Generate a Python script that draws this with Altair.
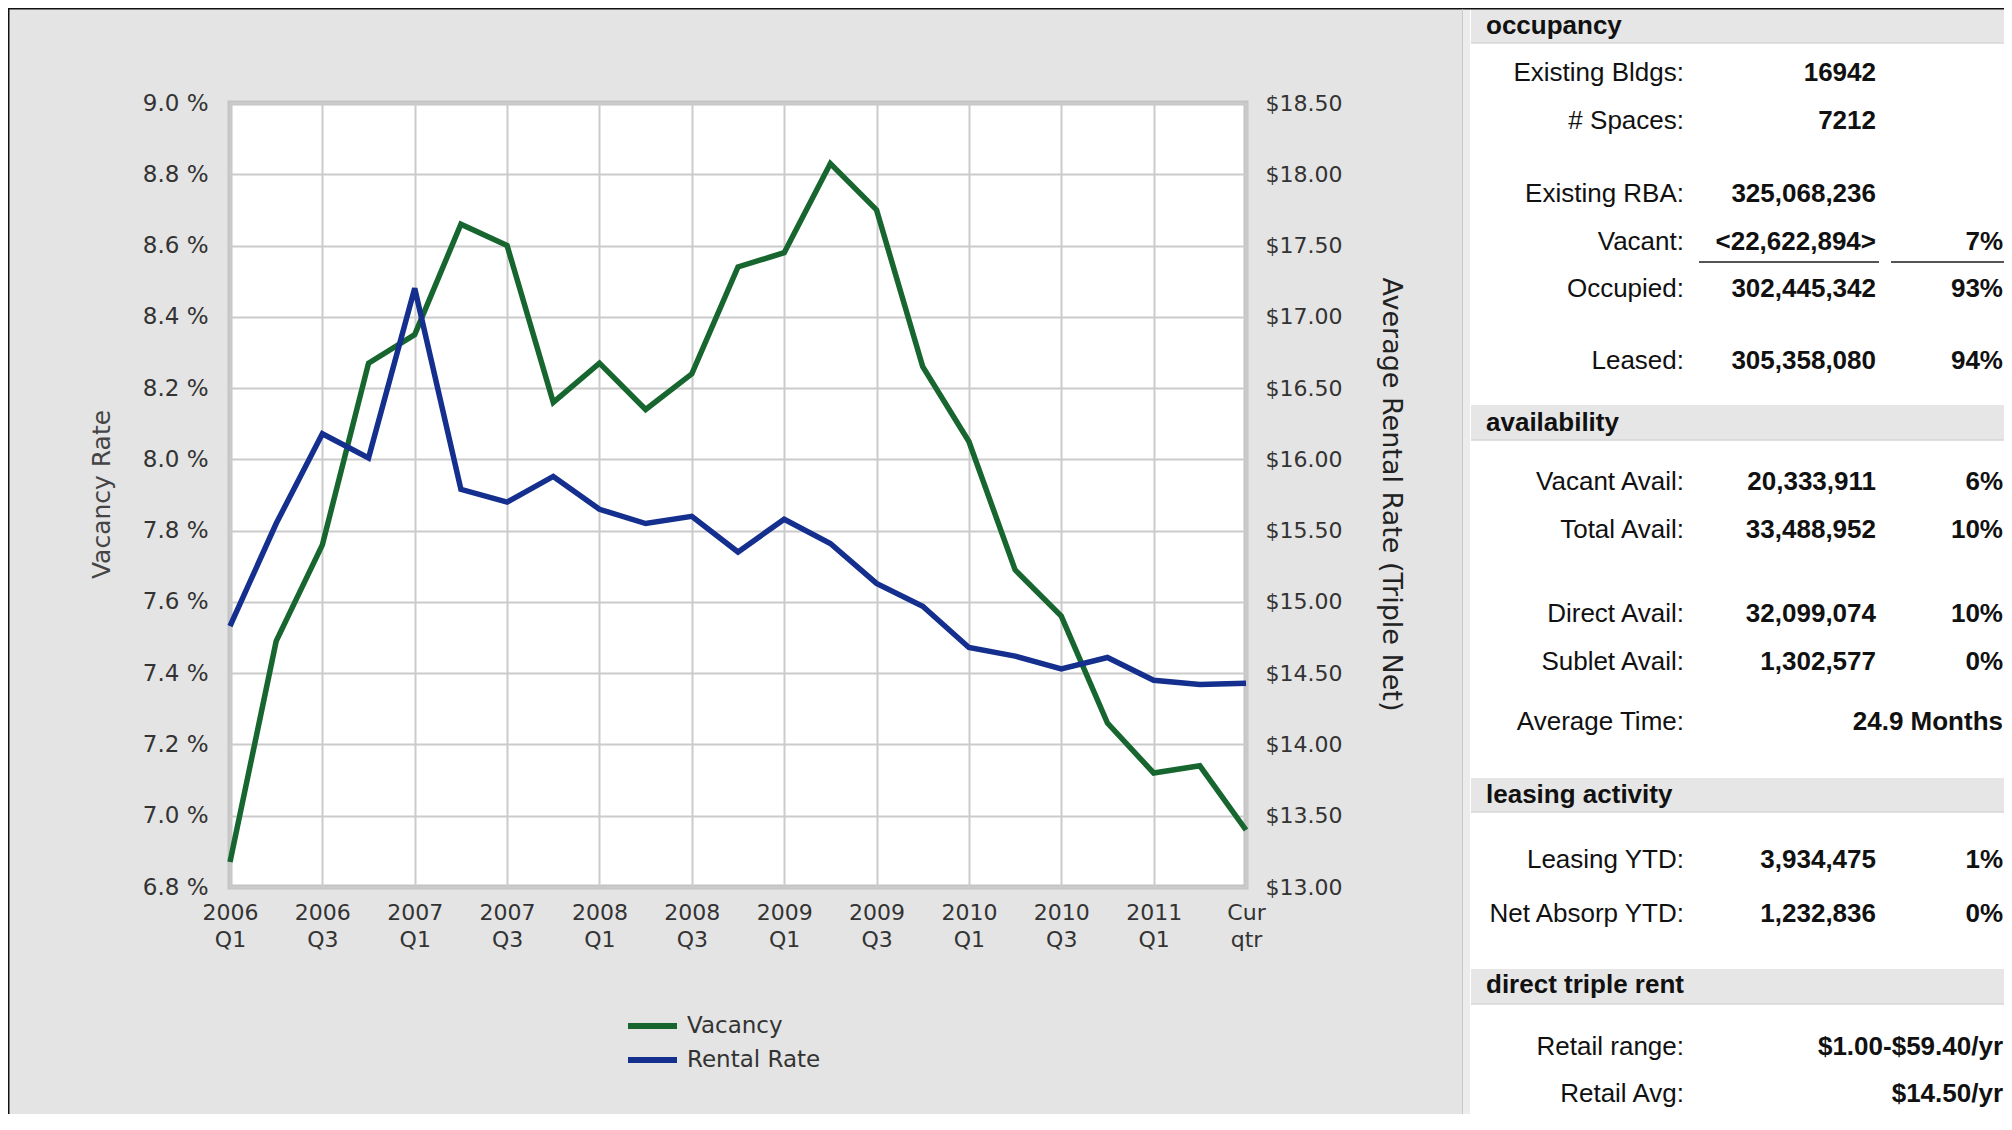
import altair as alt
import pandas as pd

# ---------------- data ----------------
quarters = ['2006 Q1', '2006 Q2', '2006 Q3', '2006 Q4',
            '2007 Q1', '2007 Q2', '2007 Q3', '2007 Q4',
            '2008 Q1', '2008 Q2', '2008 Q3', '2008 Q4',
            '2009 Q1', '2009 Q2', '2009 Q3', '2009 Q4',
            '2010 Q1', '2010 Q2', '2010 Q3', '2010 Q4',
            '2011 Q1', '2011 Q2', 'Cur qtr']
vacancy = [6.87, 7.49, 7.76, 8.27, 8.35, 8.66, 8.60, 8.16, 8.27, 8.14, 8.24, 8.54,
           8.58, 8.83, 8.70, 8.26, 8.05, 7.69, 7.56, 7.26, 7.12, 7.14, 6.96]
rental = [14.83, 15.55, 16.18, 16.01, 17.20, 15.79, 15.70, 15.88, 15.65, 15.55, 15.60, 15.35,
          15.58, 15.41, 15.13, 14.97, 14.68, 14.62, 14.53, 14.61, 14.45, 14.42, 14.43]
x_ticks = ['2006 Q1', '2006 Q3', '2007 Q1', '2007 Q3', '2008 Q1', '2008 Q3',
           '2009 Q1', '2009 Q3', '2010 Q1', '2010 Q3', '2011 Q1', 'Cur qtr']
vac_ticks = [6.8, 7.0, 7.2, 7.4, 7.6, 7.8, 8.0, 8.2, 8.4, 8.6, 8.8, 9.0]
rent_ticks = [13.0, 13.5, 14.0, 14.5, 15.0, 15.5, 16.0, 16.5, 17.0, 17.5, 18.0, 18.5]
series_names = ['Vacancy', 'Rental Rate']
series_colors = ['#17662f', '#142f8e']

section_titles = ['occupancy', 'availability', 'leasing activity', 'direct triple rent']
occ_labels = ['Existing Bldgs:', '# Spaces:', 'Existing RBA:', 'Vacant:', 'Occupied:', 'Leased:']
occ_values = ['16942', '7212', '325,068,236', '<22,622,894>', '302,445,342', '305,358,080']
occ_pcts = ['', '', '', '7%', '93%', '94%']
avail_labels = ['Vacant Avail:', 'Total Avail:', 'Direct Avail:', 'Sublet Avail:', 'Average Time:']
avail_values = ['20,333,911', '33,488,952', '32,099,074', '1,302,577', '']
avail_pcts = ['6%', '10%', '10%', '0%', '24.9 Months']
lease_labels = ['Leasing YTD:', 'Net Absorp YTD:']
lease_values = ['3,934,475', '1,232,836']
lease_pcts = ['1%', '0%']
rent_labels = ['Retail range:', 'Retail Avg:']
rent_values = ['', '']
rent_pcts = ['$1.00-$59.40/yr', '$14.50/yr']

# ---------------- layout (pixels relative to plot origin) ----------------
W, H = 1016, 784
PAGE_BOTTOM = 1114
PAGE_RIGHT = 2004
OX, OY = 230, 103  # page position of plot origin
PAD = {'left': OX - 8, 'top': OY - 8,
       'right': PAGE_RIGHT - OX - W, 'bottom': PAGE_BOTTOM - OY - H}

def rx(px):
    return px - OX

def ry(py):
    return py - OY

row_baselines = [[81, 129, 202, 250, 297, 368.5],
                 [490, 538, 622, 670, 730],
                 [868, 922],
                 [1055, 1102]]
band_spans = [(9, 43), (405, 440), (778, 812), (969, 1004)]
header_baselines = [33.5, 431, 802.5, 993]
COL_LABEL, COL_VALUE, COL_PCT, COL_HEAD = rx(1684), rx(1876), rx(2003), rx(1486)
PANEL_L, PANEL_R = rx(1471), rx(PAGE_RIGHT)

FONT_CHART = 'DejaVu Sans'
FONT_TABLE = 'Liberation Sans'

df = pd.DataFrame({'quarter': quarters, 'vacancy': vacancy, 'rental': rental})

x_axis = alt.Axis(values=x_ticks, labelExpr="split(datum.value, ' ')", labelAngle=0,
                  grid=True, gridColor='#cbcbcb', gridWidth=2, domain=False, ticks=False,
                  tickSize=0, labelPadding=15.5, labelFont=FONT_CHART, labelFontSize=22,
                  labelLineHeight=27, labelColor='#333333', labelOverlap=False,
                  labelBound=False, labelFlush=False, title=None)
x_enc = alt.X('quarter:N', sort=quarters, scale=alt.Scale(type='point', padding=0), axis=x_axis)

vac_line = alt.Chart(df).mark_line(strokeWidth=5.5, strokeJoin='miter',
                                   color=series_colors[0]).encode(
    x=x_enc,
    y=alt.Y('vacancy:Q', scale=alt.Scale(domain=[6.8, 9.0], zero=False, nice=False),
            axis=alt.Axis(values=vac_ticks, labelExpr="format(datum.value, '.1f') + ' %'",
                          grid=True, gridColor='#cbcbcb', gridWidth=2, domain=False,
                          ticks=False, tickSize=0, labelPadding=22, labelFont=FONT_CHART,
                          labelFontSize=23, labelColor='#333333', labelBound=False,
                          labelFlush=False, labelOverlap=False,
                          title='Vacancy Rate', titleX=rx(101), titleY=391,
                          titleAngle=270, titleAlign='center', titleBaseline='middle',
                          titleFont=FONT_CHART, titleFontSize=25, titleFontWeight='normal',
                          titleColor='#444444'))
)

rent_line = alt.Chart(df).mark_line(strokeWidth=5.5, strokeJoin='miter',
                                    color=series_colors[1]).encode(
    x=alt.X('quarter:N', sort=quarters, scale=alt.Scale(type='point', padding=0), axis=None),
    y=alt.Y('rental:Q', scale=alt.Scale(domain=[13.0, 18.5], zero=False, nice=False),
            axis=alt.Axis(orient='right', values=rent_ticks,
                          labelExpr="'$' + format(datum.value, '.2f')",
                          grid=False, domain=False, ticks=False, tickSize=0, labelPadding=19,
                          labelFont=FONT_CHART, labelFontSize=22, labelColor='#333333',
                          labelBound=False, labelFlush=False, labelOverlap=False,
                          title='Average Rental Rate (Triple Net)', titleX=1390 - OX - W,
                          titleY=391, titleAngle=90, titleAlign='center',
                          titleBaseline='middle', titleFont=FONT_CHART, titleFontSize=27,
                          titleFontWeight='normal', titleColor='#222222'))
)

# ---------------- decorations ----------------
rects = pd.DataFrame({
    'x0': [rx(1462), rx(1463)] + [PANEL_L] * 4,
    'x1': [PANEL_R, rx(1470)] + [PANEL_R] * 4,
    'y0': [ry(9), ry(9)] + [ry(a) for a, b in band_spans],
    'y1': [ry(PAGE_BOTTOM), ry(PAGE_BOTTOM)] + [ry(b) for a, b in band_spans],
    'fill': ['#ffffff', '#ececec'] + ['#e6e6e6'] * 4,
})
rect_layer = alt.Chart(rects).mark_rect().encode(
    x=alt.X('x0:Q', scale=None, axis=None), x2='x1:Q',
    y=alt.Y('y0:Q', scale=None, axis=None), y2='y1:Q',
    color=alt.Color('fill:N', scale=None),
)

rules = pd.DataFrame({
    'x0': [-222, -221.5, rx(1462.5), rx(1699), rx(1891)] + [PANEL_L] * 4,
    'x1': [PANEL_R, -221.5, rx(1462.5), rx(1879), PANEL_R] + [PANEL_R] * 4,
    'y0': [-94.5, -95, ry(9), ry(262), ry(262)] + [ry(b) for a, b in band_spans],
    'y1': [-94.5, ry(PAGE_BOTTOM), ry(PAGE_BOTTOM), ry(262), ry(262)] + [ry(b) for a, b in band_spans],
    'c': ['#111111', '#111111', '#c8c8c8', '#555555', '#555555'] + ['#d6d6d6'] * 4,
    'w': [2, 2, 1, 2, 2] + [1.5] * 4,
})
rule_layer = alt.Chart(rules).mark_rule().encode(
    x=alt.X('x0:Q', scale=None, axis=None), x2='x1:Q',
    y=alt.Y('y0:Q', scale=None, axis=None), y2='y1:Q',
    color=alt.Color('c:N', scale=None),
    size=alt.Size('w:Q', scale=None),
)

# ---------------- legend ----------------
legend_df = pd.DataFrame({'series': series_names, 'color': series_colors,
                          'ly': [ry(1026), ry(1060)]})
legend_sym = alt.Chart(legend_df).mark_rule(strokeWidth=6).encode(
    x=alt.value(rx(628)), x2=alt.value(rx(677)),
    y=alt.Y('ly:Q', scale=None, axis=None),
    color=alt.Color('color:N', scale=None),
)
legend_txt = alt.Chart(legend_df).mark_text(align='left', baseline='middle', font=FONT_CHART,
                                            fontSize=23, color='#333333').encode(
    x=alt.value(rx(687)), y=alt.Y('ly:Q', scale=None, axis=None), text='series:N')

# ---------------- table ----------------
all_labels = [occ_labels, avail_labels, lease_labels, rent_labels]
all_values = [occ_values, avail_values, lease_values, rent_values]
all_pcts = [occ_pcts, avail_pcts, lease_pcts, rent_pcts]
lab_rows, val_rows, pct_rows = [], [], []
for s in range(4):
    for i, lab in enumerate(all_labels[s]):
        y = ry(row_baselines[s][i])
        lab_rows.append({'x': COL_LABEL, 'y': y, 't': lab})
        if all_values[s][i]:
            val_rows.append({'x': COL_VALUE, 'y': y, 't': all_values[s][i]})
        if all_pcts[s][i]:
            pct_rows.append({'x': COL_PCT, 'y': y, 't': all_pcts[s][i]})
head_rows = [{'x': COL_HEAD, 'y': ry(header_baselines[s]), 't': section_titles[s]} for s in range(4)]


def text_layer(rows, align, weight):
    return alt.Chart(pd.DataFrame(rows)).mark_text(
        align=align, baseline='alphabetic', font=FONT_TABLE, fontSize=26,
        fontWeight=weight, color='#111111').encode(
        x=alt.X('x:Q', scale=None, axis=None), y=alt.Y('y:Q', scale=None, axis=None),
        text='t:N')


chart = alt.layer(
    rect_layer, rule_layer, vac_line, rent_line, legend_sym, legend_txt,
    text_layer(head_rows, 'left', 'bold'),
    text_layer(lab_rows, 'right', 'normal'),
    text_layer(val_rows, 'right', 'bold'),
    text_layer(pct_rows, 'right', 'bold'),
).resolve_scale(x='independent', y='independent').properties(
    width=W, height=H, padding=PAD, autosize='none', background='#e4e4e4'
).configure_view(fill='white', stroke='#c4c4c4', strokeWidth=5)

chart.save('out.html', embed_options={'renderer': 'svg', 'actions': False})
